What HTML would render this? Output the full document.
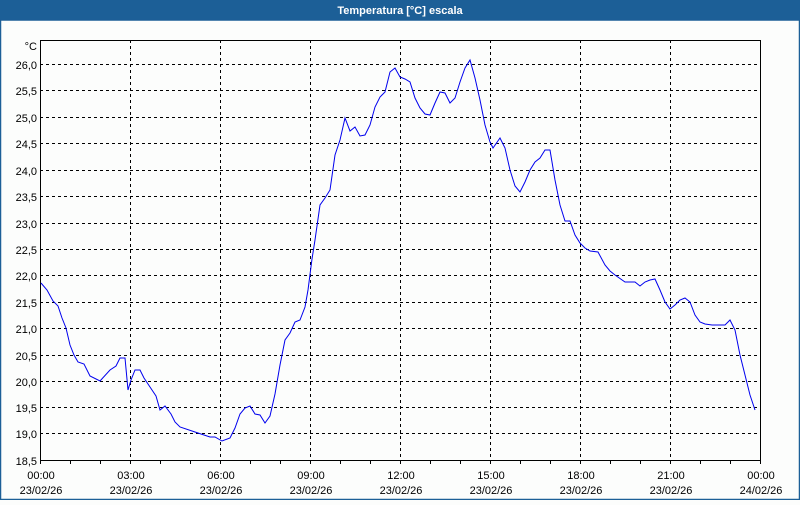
<!DOCTYPE html>
<html><head><meta charset="utf-8"><style>
body{margin:0;width:800px;height:500px;overflow:hidden;background:#fcfdfc;font-family:"Liberation Sans",sans-serif}
</style></head><body>
<svg width="800" height="500" xmlns="http://www.w3.org/2000/svg" font-family="Liberation Sans, sans-serif" font-size="11">
<rect x="0" y="0" width="800" height="500" fill="#fcfdfc"/>
<rect x="0" y="0" width="800" height="20" fill="#1c5f97"/>
<text x="400" y="14" fill="#fff" font-weight="bold" text-anchor="middle" font-size="11">Temperatura [°C] escala</text>
<rect x="0.5" y="20" width="799" height="479.5" fill="none" stroke="#1c5f97" stroke-width="1.5"/>
<g stroke="#000" stroke-width="1" stroke-dasharray="3,3">
<line x1="40" x2="760" y1="64.5" y2="64.5"/><line x1="40" x2="760" y1="90.5" y2="90.5"/><line x1="40" x2="760" y1="117.5" y2="117.5"/><line x1="40" x2="760" y1="143.5" y2="143.5"/><line x1="40" x2="760" y1="170.5" y2="170.5"/><line x1="40" x2="760" y1="196.5" y2="196.5"/><line x1="40" x2="760" y1="223.5" y2="223.5"/><line x1="40" x2="760" y1="249.5" y2="249.5"/><line x1="40" x2="760" y1="275.5" y2="275.5"/><line x1="40" x2="760" y1="302.5" y2="302.5"/><line x1="40" x2="760" y1="328.5" y2="328.5"/><line x1="40" x2="760" y1="355.5" y2="355.5"/><line x1="40" x2="760" y1="381.5" y2="381.5"/><line x1="40" x2="760" y1="407.5" y2="407.5"/><line x1="40" x2="760" y1="433.5" y2="433.5"/>
<line x1="130.5" x2="130.5" y1="40" y2="460"/><line x1="220.5" x2="220.5" y1="40" y2="460"/><line x1="310.5" x2="310.5" y1="40" y2="460"/><line x1="400.5" x2="400.5" y1="40" y2="460"/><line x1="490.5" x2="490.5" y1="40" y2="460"/><line x1="580.5" x2="580.5" y1="40" y2="460"/><line x1="670.5" x2="670.5" y1="40" y2="460"/>
</g>
<rect x="40.5" y="40.5" width="720" height="420" fill="none" stroke="#000" stroke-width="1"/>
<g stroke="#000"><path d="M70.5 461v3M100.5 461v3M130.5 461v3M160.5 461v3M190.5 461v3M220.5 461v3M250.5 461v3M280.5 461v3M310.5 461v3M340.5 461v3M370.5 461v3M400.5 461v3M430.5 461v3M460.5 461v3M490.5 461v3M520.5 461v3M550.5 461v3M580.5 461v3M610.5 461v3M640.5 461v3M670.5 461v3M700.5 461v3M730.5 461v3M40.5 461v3M760.5 461v3"/></g>
<g text-anchor="end" fill="#000">
<text x="37" y="50">°C</text>
<text x="37" y="69">26,0</text><text x="37" y="95">25,5</text><text x="37" y="122">25,0</text><text x="37" y="148">24,5</text><text x="37" y="175">24,0</text><text x="37" y="201">23,5</text><text x="37" y="228">23,0</text><text x="37" y="254">22,5</text><text x="37" y="280">22,0</text><text x="37" y="307">21,5</text><text x="37" y="333">21,0</text><text x="37" y="360">20,5</text><text x="37" y="386">20,0</text><text x="37" y="412">19,5</text><text x="37" y="438">19,0</text><text x="37" y="465">18,5</text>
</g>
<g text-anchor="middle" fill="#000">
<text x="41" y="479">00:00</text><text x="41" y="494">23/02/26</text>
<text x="131" y="479">03:00</text><text x="131" y="494">23/02/26</text>
<text x="221" y="479">06:00</text><text x="221" y="494">23/02/26</text>
<text x="311" y="479">09:00</text><text x="311" y="494">23/02/26</text>
<text x="401" y="479">12:00</text><text x="401" y="494">23/02/26</text>
<text x="491" y="479">15:00</text><text x="491" y="494">23/02/26</text>
<text x="581" y="479">18:00</text><text x="581" y="494">23/02/26</text>
<text x="671" y="479">21:00</text><text x="671" y="494">23/02/26</text>
<text x="761" y="479">00:00</text><text x="761" y="494">24/02/26</text>
</g>
<polyline fill="none" stroke="#0000ee" stroke-width="1" points="41,283 47,290 53,301 58,306 62,318 66,328 70,345 74,355 78,362 84,364 90,376 100,381 110,370 116,366 120,358 125,358 128,390 131,380 135,370 140,370 144,378 150,387 156,396 160,410 165,406 171,414 175,422 180,427 195,432 210,437 215,437 222,441 230,438 235,428 240,414 245,408 250,406 255,414 260,415 265,423 270,416 275,394 280,365 285,340 290,333 295,322 300,320 305,307 308,290 312,259 315,240 320,205 325,198 330,190 335,155 340,140 345,118 350,131 355,127 360,136 365,135 370,125 375,107 380,97 385,92 390,72 395,68 400,77 405,79 410,82 415,98 420,108 425,114 430,115 435,103 440,92 445,93 450,103 455,98 460,82 465,68 470,60 475,78 480,100 485,125 490,142 493,148 500,138 505,148 510,170 515,186 520,192 525,182 530,170 535,162 540,158 545,150 550,150 555,180 560,205 565,221 570,221 575,235 580,243 585,248 590,251 598,252 605,265 610,271 615,275 625,282 635,282 640,286 645,282 650,280 655,279 660,290 665,302 670,309 675,305 680,300 685,298 690,302 695,315 700,322 705,324 712,325 725,325 730,320 735,330 740,355 745,375 750,395 755,410"/>
</svg>
</body></html>
